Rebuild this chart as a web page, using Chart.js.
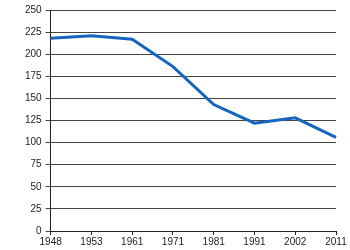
<!DOCTYPE html>
<html>
<head>
<meta charset="utf-8">
<script src="https://cdn.jsdelivr.net/npm/chart.js@4"></script>
<style>
  html, body { margin: 0; padding: 0; background: #fff; }
  #wrap { width: 350px; height: 250px; }
</style>
</head>
<body>
<div id="wrap"><canvas id="lineCanvas"></canvas></div>
<script>
const years = ["1948", "1953", "1961", "1971", "1981", "1991", "2002", "2011"];
const values = [218, 221, 217, 186, 143, 122, 128, 106];
const yTicks = [0, 25, 50, 75, 100, 125, 150, 175, 200, 225, 250];

const lineCanvas = document.getElementById("lineCanvas");

const lineChart = new Chart(lineCanvas, {
  type: "line",
  data: {
    labels: years,
    datasets: [{
      data: values,
      borderColor: "#1565c0",
      borderWidth: 3,
      pointRadius: 0,
      tension: 0,
      fill: false
    }]
  },
  options: {
    responsive: true,
    maintainAspectRatio: false,
    animation: false,
    layout: { padding: { top: 7, right: 14, left: 21, bottom: 1 } },
    plugins: { legend: { display: false }, tooltip: { enabled: false } },
    scales: {
      x: {
        offset: false,
        grid: { display: true, drawOnChartArea: false, drawTicks: true, tickLength: 4, color: "#222" },
        border: { color: "#222", width: 1 },
        ticks: { color: "#222", font: { family: "Liberation Sans", size: 10 }, padding: 1, maxRotation: 0, autoSkip: false }
      },
      y: {
        min: 0,
        max: 250,
        afterBuildTicks: (axis) => { axis.ticks = yTicks.map(v => ({ value: v })); },
        grid: { color: "#444", lineWidth: 1, tickLength: 5 },
        border: { color: "#222", width: 1 },
        ticks: { color: "#222", font: { family: "Liberation Sans", size: 10 }, padding: 4 }
      }
    }
  }
});
</script>
</body>
</html>
